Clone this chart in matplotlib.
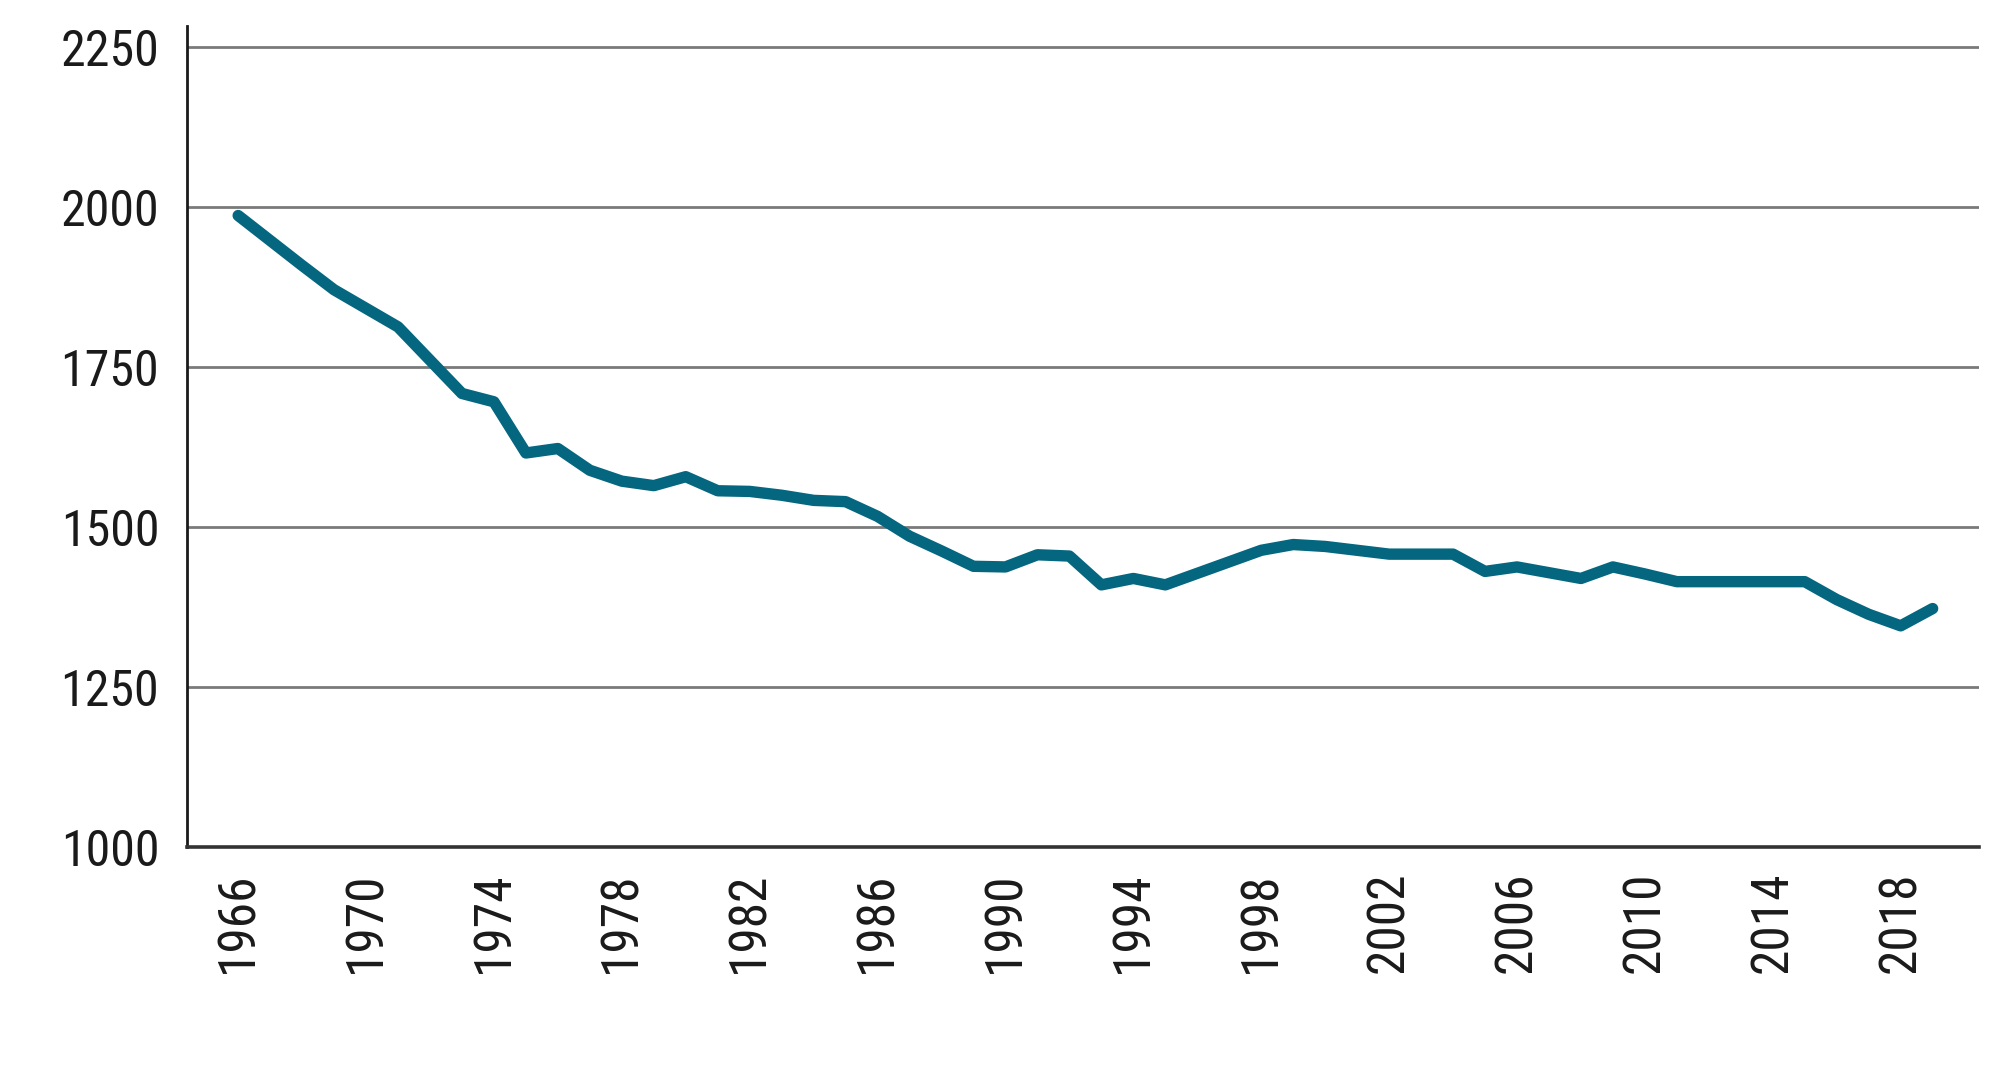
import matplotlib
matplotlib.use("Agg")
import matplotlib.pyplot as plt
from matplotlib import font_manager
from matplotlib.font_manager import FontProperties

years = list(range(1966, 2020))
values = [
    1986, 1947, 1908, 1870, 1841, 1812, 1760, 1708, 1695, 1615,  # 1966-1975
    1622, 1588, 1571, 1564, 1578, 1556, 1555, 1549, 1541, 1539,  # 1976-1985
    1516, 1485, 1462, 1438, 1437, 1456, 1454, 1409, 1419, 1409,  # 1986-1995
    1427, 1445, 1463, 1472, 1469, 1463, 1457, 1457, 1457, 1430,  # 1996-2005
    1437, 1428, 1419, 1437, 1426, 1414, 1414, 1414, 1414, 1414,  # 2006-2015
    1386, 1363, 1345, 1372,                                      # 2016-2019
]
y_ticks = [1000, 1250, 1500, 1750, 2000, 2250]
x_ticks = list(range(1966, 2019, 4))


def find_narrow():
    prefs = ["Roboto Condensed", "Liberation Sans Narrow", "Open Sans Condensed",
             "DejaVu Sans Condensed", "Noto Sans Condensed"]
    cands = []
    for f in font_manager.fontManager.ttflist:
        nm = f.name
        st = f.stretch
        fn = f.fname.lower()
        is_narrow = ("condensed" in nm.lower() or "narrow" in nm.lower()
                     or "condensed" in fn or "narrow" in fn
                     or st in ("condensed", "semi-condensed", "extra-condensed")
                     or (isinstance(st, int) and st < 500))
        if not is_narrow:
            continue
        if f.weight not in (400, "normal", "regular", "Regular"):
            if "bold" in fn or "light" in fn or "thin" in fn or "medium" in fn or "black" in fn:
                continue
        if "italic" in fn or "oblique" in fn:
            continue
        rank = len(prefs)
        for i, p in enumerate(prefs):
            if p.lower().replace(" ", "") in (nm + fn).lower().replace(" ", "").replace("-", "").replace("_", ""):
                rank = i
                break
        if "roboto" in fn and "condensed" in fn:
            rank = min(rank, 0)
        if "dejavusanscondensed" in fn.replace("-", "").replace("_", ""):
            rank = min(rank, 3)
        cands.append((rank, f.fname))
    cands.sort()
    return cands[0][1] if cands else None


narrow = find_narrow()
if narrow:
    fp_y = FontProperties(fname=narrow, size=36)
    fp_x = FontProperties(fname=narrow, size=37)
else:
    fp_y = FontProperties(family="Liberation Sans", size=31)
    fp_x = FontProperties(family="Liberation Sans", size=30)

fig = plt.figure(figsize=(20, 10.72), dpi=100)
ax = fig.add_axes([0.0935, 0.2102, 0.896, 0.7655])

ax.plot(years, values, color="#04667f", linewidth=8.2,
        solid_capstyle="round", solid_joinstyle="round", zorder=3)

ax.set_xlim(1964.4, 2020.45)
ax.set_ylim(1000, 2282)
ax.set_yticks(y_ticks)
ax.set_xticks(x_ticks)
ax.set_yticklabels([str(v) for v in y_ticks], fontproperties=fp_y, color="#1a1a1a")
ax.set_xticklabels([str(v) for v in x_ticks], fontproperties=fp_x,
                   rotation=90, color="#1a1a1a")
ax.tick_params(axis="both", length=0)
ax.tick_params(axis="y", pad=20)
ax.tick_params(axis="x", pad=18)

ax.grid(axis="y", color="#7a7a7a", linewidth=2.0, zorder=1)
ax.grid(axis="x", visible=False)
for s in ("top", "right"):
    ax.spines[s].set_visible(False)
ax.spines["left"].set_color("#1a1a1a")
ax.spines["left"].set_linewidth(2.0)
ax.spines["bottom"].set_color("#333333")
ax.spines["bottom"].set_linewidth(2.6)

fig.savefig("out.png", dpi=100, facecolor="white")
